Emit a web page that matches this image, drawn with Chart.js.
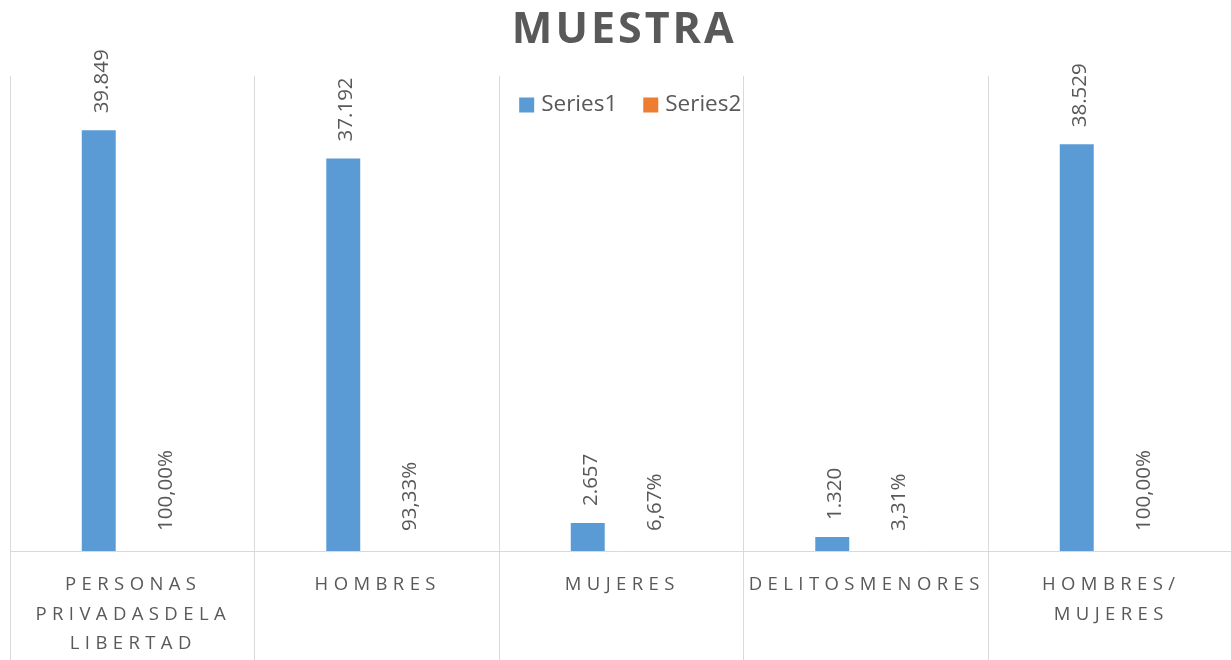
<!DOCTYPE html>
<html>
<head>
<meta charset="utf-8">
<script src="https://cdn.jsdelivr.net/npm/chart.js@4"></script>
<style>
  html, body { margin: 0; padding: 0; background: #fff; overflow: hidden; }
  #wrap { position: relative; width: 1234px; height: 660px; }
</style>
</head>
<body>
<div id="wrap"><canvas id="muestraChart"></canvas></div>
<script>
  // chart values
  const categories = [
    ['PERSONAS', 'PRIVADASDELA', 'LIBERTAD'],
    ['HOMBRES'],
    ['MUJERES'],
    ['DELITOSMENORES'],
    ['HOMBRES/', 'MUJERES']
  ];
  const series1 = [39849, 37192, 2657, 1320, 38529];
  const series2 = [1, 0.9333, 0.0667, 0.0331, 1];
  const seriesNames = ['Series1', 'Series2'];
  const chartTitle = 'MUESTRA';

  const textGray = '#595959';
  const gridGray = '#D9D9D9';
  const font = '"Open Sans", "DejaVu Sans", sans-serif';

  const fmtNumber = v => v.toLocaleString('de-DE');
  const fmtPercent = v => (v * 100).toFixed(2).replace('.', ',') + '%';

  // Excel-like decorations: title, legend inside plot, spaced category labels, rotated data labels
  const excelLook = {
    id: 'excelLook',
    afterDatasetsDraw(chart) {
      const ctx = chart.ctx;
      ctx.save();
      ctx.fillStyle = textGray;
      ctx.font = '20.5px ' + font;
      ctx.textAlign = 'left';
      ctx.textBaseline = 'middle';
      chart.data.datasets.forEach((ds, di) => {
        const meta = chart.getDatasetMeta(di);
        meta.data.forEach((bar, i) => {
          const txt = di === 0 ? fmtNumber(ds.data[i]) : fmtPercent(ds.data[i]);
          const off = di === 0 ? 17 : 20;
          ctx.save();
          ctx.translate(bar.x + (di === 0 ? 3 : 0), bar.y - off);
          ctx.rotate(-Math.PI / 2);
          ctx.fillText(txt, 0, 0);
          ctx.restore();
        });
      });
      ctx.restore();
    },
    afterDraw(chart) {
      const ctx = chart.ctx;
      const area = chart.chartArea;
      const cx = (area.left + area.right) / 2;
      ctx.save();

      // title
      ctx.fillStyle = textGray;
      ctx.font = 'bold 43px ' + font;
      ctx.letterSpacing = '3px';
      ctx.textAlign = 'center';
      ctx.textBaseline = 'alphabetic';
      ctx.fillText(chartTitle, cx + 3, 43);

      // legend
      ctx.letterSpacing = '0px';
      ctx.font = '22.5px ' + font;
      ctx.textAlign = 'left';
      ctx.textBaseline = 'middle';
      const box = 15, gapBox = 7, gapItem = 26;
      const items = chart.data.datasets.map(ds => ({ label: ds.label, color: ds.backgroundColor, w: ctx.measureText(ds.label).width }));
      const total = items.reduce((s, it) => s + box + gapBox + it.w, 0) + gapItem * (items.length - 1);
      let x = cx + 9 - total / 2;
      const ly = 105;
      items.forEach(it => {
        ctx.fillStyle = it.color;
        ctx.fillRect(x, ly - 7.5, box, box);
        ctx.fillStyle = textGray;
        ctx.fillText(it.label, x + box + gapBox, ly);
        x += box + gapBox + it.w + gapItem;
      });

      // category labels with wide letter spacing
      const xs = chart.scales.x;
      ctx.font = '18.5px ' + font;
      ctx.letterSpacing = '5.4px';
      ctx.textAlign = 'center';
      ctx.textBaseline = 'alphabetic';
      ctx.fillStyle = textGray;
      categories.forEach((lines, i) => {
        const px = xs.getPixelForValue(i) + 1;
        lines.forEach((line, li) => {
          ctx.fillText(line, px, area.bottom + 39 + li * 29.5);
        });
      });
      ctx.restore();
    }
  };

  const ctx = document.getElementById('muestraChart').getContext('2d');
  new Chart(ctx, {
    type: 'bar',
    data: {
      labels: categories.map(c => c.join(' ')),
      datasets: [
        { label: seriesNames[0], data: series1, backgroundColor: '#5B9BD5', borderWidth: 0 },
        { label: seriesNames[1], data: series2, backgroundColor: '#ED7D31', borderWidth: 0 }
      ]
    },
    options: {
      responsive: true,
      maintainAspectRatio: false,
      animation: false,
      categoryPercentage: 0.548,
      barPercentage: 0.507,
      layout: { padding: { left: 10, right: 1.5, top: 76, bottom: 0 } },
      plugins: {
        legend: { display: false },
        title: { display: false },
        tooltip: { enabled: false }
      },
      scales: {
        x: {
          offset: true,
          grid: { display: true, offset: true, color: gridGray, lineWidth: 1, drawTicks: true, tickLength: 109, tickColor: gridGray },
          border: { display: true, color: gridGray, width: 1 },
          ticks: { display: false }
        },
        y: {
          display: false,
          min: 0,
          max: 45000
        }
      }
    },
    plugins: [excelLook]
  });
</script>
</body>
</html>
